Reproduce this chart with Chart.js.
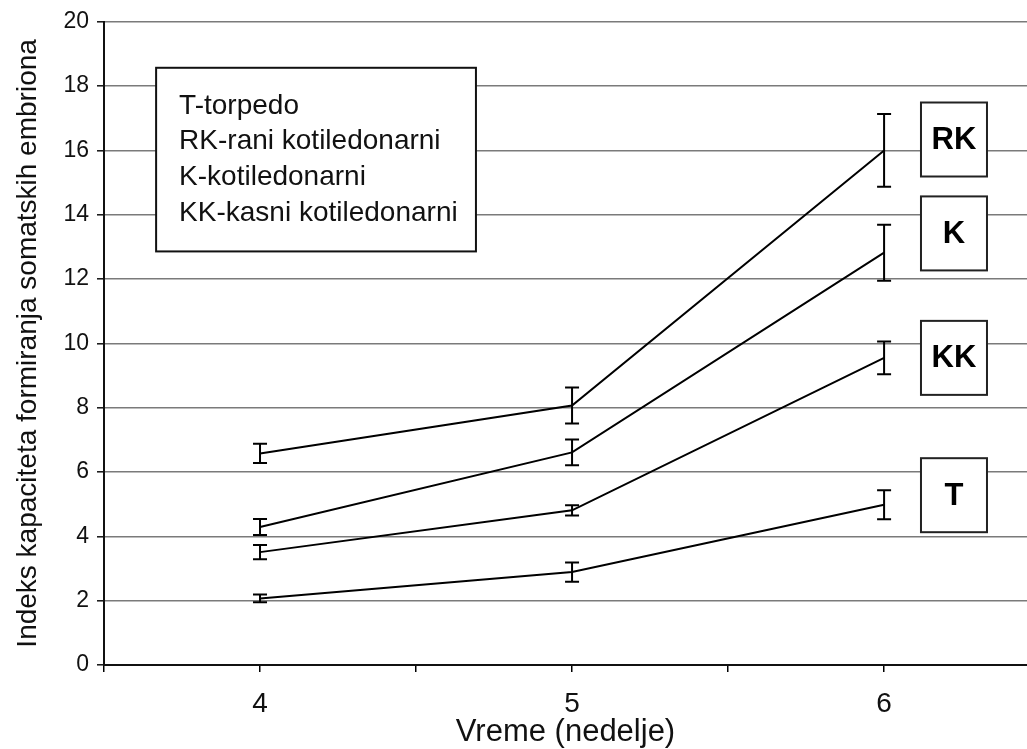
<!DOCTYPE html>
<html>
<head>
<meta charset="utf-8">
<script src="https://cdn.jsdelivr.net/npm/chart.js@4"></script>
<style>
html,body{margin:0;padding:0;background:#fff;}
#wrap{width:1027px;height:749px;}
</style>
</head>
<body>
<div id="wrap"><canvas id="c" width="1027" height="749"></canvas></div>
<script>
// ---- data ----
const weeks = [4, 5, 6];
const seriesNames = ['RK', 'K', 'KK', 'T'];
const valuesRK = [6.58, 8.07, 16.0];
const errRK    = [0.30, 0.56, 1.13];
const valuesK  = [4.29, 6.61, 12.82];
const errK     = [0.25, 0.40, 0.87];
const valuesKK = [3.51, 4.81, 9.55];
const errKK    = [0.22, 0.16, 0.51];
const valuesT  = [2.07, 2.89, 4.98];
const errT     = [0.12, 0.30, 0.45];
const legendLines = ['T-torpedo', 'RK-rani kotiledonarni', 'K-kotiledonarni', 'KK-kasni kotiledonarni'];
const yTickValues = [0, 2, 4, 6, 8, 10, 12, 14, 16, 18, 20];
const xTickLabels = [4, 5, 6];
const xTitle = 'Vreme (nedelje)';
const yTitle = 'Indeks kapaciteta formiranja somatskih embriona';

const allValues = [valuesRK, valuesK, valuesKK, valuesT];
const allErrors = [errRK, errK, errKK, errT];

const FONT = '"Liberation Sans", Arial, sans-serif';

const datasets = seriesNames.map((name, i) => ({
  label: name,
  data: weeks.map((w, j) => ({x: w, y: allValues[i][j]})),
  errors: allErrors[i],
  borderColor: '#000',
  borderWidth: 2,
  pointRadius: 0,
  tension: 0,
  fill: false
}));

// label boxes at the line ends (data coordinates of box centres)
const tagBoxes = [
  {text: 'RK', x: 6.224, y: 16.34},
  {text: 'K',  x: 6.224, y: 13.42},
  {text: 'KK', x: 6.224, y: 9.55},
  {text: 'T',  x: 6.224, y: 5.28}
];

const bgPlugin = {
  id: 'bg',
  beforeDraw(chart) {
    const ctx = chart.ctx;
    ctx.save();
    ctx.fillStyle = '#fff';
    ctx.fillRect(0, 0, chart.width, chart.height);
    ctx.restore();
  }
};

const errorBarPlugin = {
  id: 'errbars',
  afterDatasetsDraw(chart) {
    const ctx = chart.ctx;
    const xs = chart.scales.x, ys = chart.scales.y;
    ctx.save();
    ctx.strokeStyle = '#000';
    ctx.lineWidth = 2;
    chart.data.datasets.forEach(ds => {
      ds.data.forEach((p, j) => {
        const e = ds.errors[j];
        const px = xs.getPixelForValue(p.x);
        const top = ys.getPixelForValue(p.y + e);
        const bot = ys.getPixelForValue(p.y - e);
        const cw = 7;
        ctx.beginPath();
        ctx.moveTo(px, top); ctx.lineTo(px, bot);
        ctx.moveTo(px - cw, top); ctx.lineTo(px + cw, top);
        ctx.moveTo(px - cw, bot); ctx.lineTo(px + cw, bot);
        ctx.stroke();
      });
    });
    ctx.restore();
  }
};

const annotPlugin = {
  id: 'annot',
  afterDraw(chart) {
    const ctx = chart.ctx;
    const xs = chart.scales.x, ys = chart.scales.y;
    ctx.save();
    // legend explanation box
    const lx0 = xs.getPixelForValue(3.667), lx1 = xs.getPixelForValue(4.692);
    const ly0 = ys.getPixelForValue(18.57), ly1 = ys.getPixelForValue(12.86);
    ctx.fillStyle = '#fff';
    ctx.fillRect(lx0, ly0, lx1 - lx0, ly1 - ly0);
    ctx.strokeStyle = '#111';
    ctx.lineWidth = 2;
    ctx.strokeRect(lx0, ly0, lx1 - lx0, ly1 - ly0);
    ctx.fillStyle = '#111';
    ctx.font = '28px ' + FONT;
    ctx.textBaseline = 'alphabetic';
    ctx.textAlign = 'left';
    legendLines.forEach((t, i) => {
      ctx.fillText(t, lx0 + 23, ly0 + 46 + i * 35.7);
    });
    // tag boxes
    const bw = 66, bh = 74;
    tagBoxes.forEach(b => {
      const cx = xs.getPixelForValue(b.x), cy = ys.getPixelForValue(b.y);
      ctx.fillStyle = '#fff';
      ctx.fillRect(cx - bw / 2, cy - bh / 2, bw, bh);
      ctx.strokeStyle = '#222';
      ctx.lineWidth = 2;
      ctx.strokeRect(cx - bw / 2, cy - bh / 2, bw, bh);
      ctx.fillStyle = '#000';
      ctx.font = 'bold 31px ' + FONT;
      ctx.textAlign = 'center';
      ctx.textBaseline = 'middle';
      ctx.fillText(b.text, cx, cy + 1);
    });
    ctx.restore();
  }
};

new Chart(document.getElementById('c'), {
  type: 'line',
  data: {datasets},
  options: {
    responsive: false,
    animation: false,
    devicePixelRatio: 1,
    layout: {padding: {top: 21, right: 0, left: 0, bottom: 0}},
    plugins: {legend: {display: false}, tooltip: {enabled: false}},
    scales: {
      x: {
        type: 'linear',
        min: 3.5,
        max: 6.458,
        afterFit(s) { s.height = 84; },
        afterBuildTicks(s) {
          const t = [];
          for (let v = 3.5; v <= 6.458; v += 0.5) t.push({value: v});
          s.ticks = t;
        },
        ticks: {
          autoSkip: false,
          maxRotation: 0,
          padding: 15,
          color: '#111',
          font: {family: FONT, size: 28},
          callback: v => xTickLabels.includes(v) ? String(v) : ''
        },
        grid: {drawOnChartArea: false, drawTicks: true, tickLength: 7, color: '#000', lineWidth: 1.5},
        border: {color: '#111', width: 2},
        title: {display: true, text: xTitle, color: '#111', font: {family: FONT, size: 31, lineHeight: 1}, padding: {top: 0, bottom: 1}}
      },
      y: {
        min: 0,
        max: 20,
        afterFit(s) { s.width = 104; },
        afterBuildTicks(s) { s.ticks = yTickValues.map(v => ({value: v})); },
        ticks: {
          padding: 8,
          color: '#111',
          font: {family: FONT, size: 23}
        },
        grid: {color: '#7a7a7a', lineWidth: 1.6, tickLength: 7, tickColor: '#111', tickWidth: 1.5},
        border: {color: '#111', width: 2},
        title: {display: true, text: yTitle, color: '#111', font: {family: FONT, size: 28, lineHeight: 1}, padding: {top: 14, bottom: 0}}
      }
    }
  },
  plugins: [bgPlugin, errorBarPlugin, annotPlugin]
});
</script>
</body>
</html>
